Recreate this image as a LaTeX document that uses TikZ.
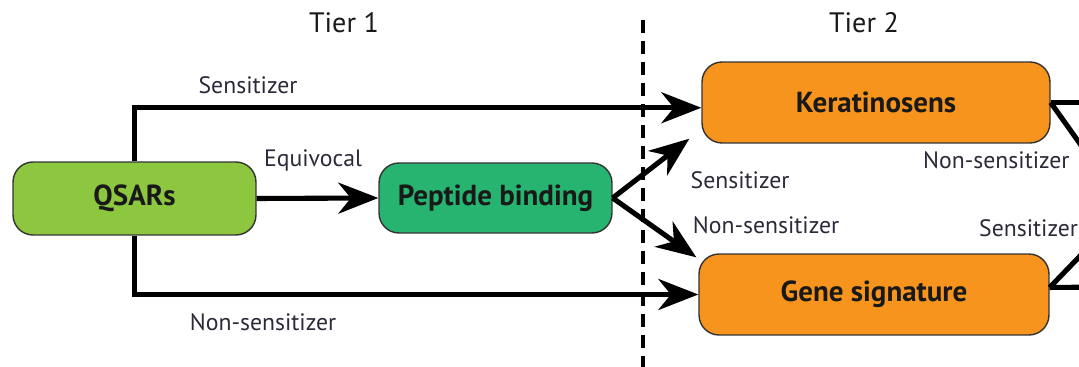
\documentclass[tikz,border=0pt]{standalone}
\usepackage{fontspec}
\setmainfont{PT Sans}
\usetikzlibrary{arrows.meta,positioning}
\definecolor{qsargreen}{HTML}{8DC63F}
\definecolor{pepgreen}{HTML}{27B471}
\definecolor{tierorange}{HTML}{F7941D}
\definecolor{labelgray}{HTML}{2A2A38}

\begin{document}
\begin{tikzpicture}[x=0.02cm,y=-0.02cm,
  box/.style={draw=black!80,line width=0.8pt,rounded corners=0.4cm,
    font=\fontsize{16.5}{19}\selectfont\bfseries,text=black!90},
  flow/.style={line width=2.9pt,-{Stealth[length=0.8cm,width=0.62cm,inset=0.25cm]}},
  line/.style={line width=2.9pt},
  lab/.style={font=\fontsize{13.5}{16}\selectfont,text=labelgray},
  tier/.style={font=\fontsize{16}{18}\selectfont,text=black!90}]
\useasboundingbox (0,0) rectangle (1079,367);
\clip (0,0) rectangle (1079,367);
% Tiers
\node[tier] (tone) at (344,23) {Tier 1};
\node[tier] (ttwo) at (864,23) {Tier 2};
\draw[line width=2pt,dash pattern=on 0.26cm off 0.16cm] (643,20) -- (643,367);
% Boxes
\node[box,fill=qsargreen,minimum width=4.86cm,minimum height=1.46cm] (qsar) at (134.5,198.5) {QSARs};
\node[box,fill=pepgreen,minimum width=4.66cm,minimum height=1.4cm] (pep) at (495.5,198) {Peptide binding};
\node[box,fill=tierorange,minimum width=6.96cm,minimum height=1.62cm] (ker) at (876,102.5) {Keratinosens};
\node[box,fill=tierorange,minimum width=7cm,minimum height=1.62cm] (gen) at (874,294.5) {Gene signature};
% Flows out of tier 1
\draw[flow] (qsar.north) |- ([yshift=-3pt]ker.west);
\draw[flow] (qsar.south) |- (gen.west);
\draw[flow] (qsar.east) -- (pep.west);
\draw[flow] (pep.east) -- ([shift={(-12,-5)}]ker.south west);
\draw[flow] (pep.east) -- ([shift={(-2,4)}]gen.north west);
% Flows out of tier 2
\coordinate (kout) at (1110,102.5);
\coordinate (kdown) at (1110,186);
\coordinate (gout) at (1110,287);
\coordinate (gup) at (1110,225);
\draw[line] (ker.east) -- (kout);
\draw[line] (ker.east) -- (kdown);
\draw[line] ([yshift=4pt]gen.east) -- (gout);
\draw[line] ([yshift=4pt]gen.east) -- (gup);
% Labels
\node[lab] at (248,85) {Sensitizer};
\node[lab] at (263,322) {Non-sensitizer};
\node[lab] at (313,160) {Equivocal};
\node[lab] at (740,180) {Sensitizer};
\node[lab] at (766,225) {Non-sensitizer};
\node[lab,anchor=west] at (917,160) {Non-sensitizer};
\node[lab,anchor=west] at (973,228) {Sensitizer};
\end{tikzpicture}
\end{document}
